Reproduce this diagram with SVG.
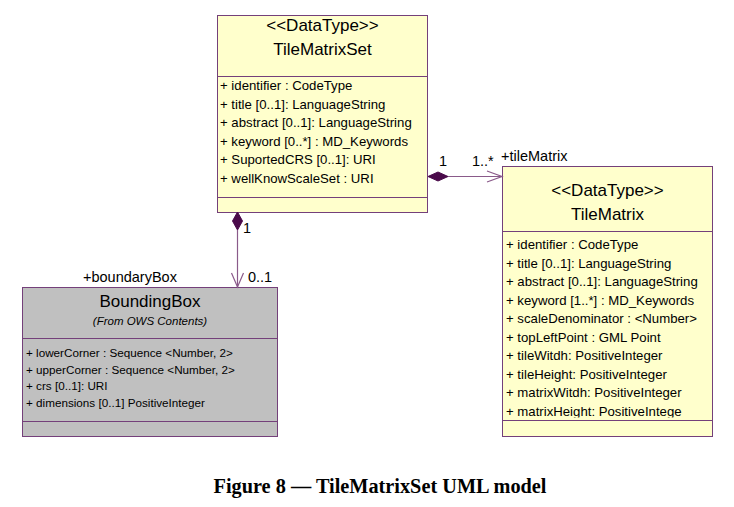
<svg xmlns="http://www.w3.org/2000/svg" width="734" height="507" viewBox="0 0 734 507">
<style>
.box{fill:#ffffcc;stroke:#74407a;stroke-width:1}
.gbox{fill:#c0c0c0;stroke:#74407a;stroke-width:1}
.div{stroke:#74407a;stroke-width:1}
.st{font-family:"Liberation Sans",Arial,sans-serif;font-size:17px;fill:#000;text-anchor:middle}
.at{font-family:"Liberation Sans",Arial,sans-serif;font-size:13.2px;fill:#000}
.sat{font-family:"Liberation Sans",Arial,sans-serif;font-size:11.7px;fill:#000}
.it{font-family:"Liberation Sans",Arial,sans-serif;font-size:11.5px;font-style:italic;fill:#000;text-anchor:middle}
.lbl{font-family:"Liberation Sans",Arial,sans-serif;font-size:14.5px;fill:#000}
.conn{stroke:#8a5a8a;stroke-width:1.2;fill:none}
.dia{fill:#4a0a4a;stroke:#4a0a4a}
.cap{font-family:"Liberation Serif","Times New Roman",serif;font-size:20.3px;font-weight:bold;fill:#000;text-anchor:middle}
</style>
<defs>
<clipPath id="tmclip"><rect x="503" y="232" width="209" height="185.5"/></clipPath>
</defs>
<rect width="734" height="507" fill="#ffffff"/>

<g id="TileMatrixSet">
<rect class="box" x="217.5" y="15.5" width="210" height="197"/>
<line class="div" x1="217.5" y1="76.5" x2="427.5" y2="76.5"/>
<line class="div" x1="217.5" y1="197.5" x2="427.5" y2="197.5"/>
<text class="st" x="322.5" y="31">&lt;&lt;DataType&gt;&gt;</text>
<text class="st" x="322.5" y="55">TileMatrixSet</text>
<text class="at" x="220" y="90">+ identifier : CodeType</text>
<text class="at" x="220" y="108.5">+ title [0..1]: LanguageString</text>
<text class="at" x="220" y="127">+ abstract [0..1]: LanguageString</text>
<text class="at" x="220" y="145.5">+ keyword [0..*] : MD_Keywords</text>
<text class="at" x="220" y="164">+ SuportedCRS [0..1]: URI</text>
<text class="at" x="220" y="182.5">+ wellKnowScaleSet : URI</text>
</g>

<g id="TileMatrix">
<rect class="box" x="502.5" y="166.5" width="210" height="270"/>
<line class="div" x1="502.5" y1="231.5" x2="712.5" y2="231.5"/>
<line class="div" x1="502.5" y1="420.5" x2="712.5" y2="420.5"/>
<text class="st" x="607.5" y="196">&lt;&lt;DataType&gt;&gt;</text>
<text class="st" x="607.5" y="220">TileMatrix</text>
<g clip-path="url(#tmclip)">
<text class="at" x="506" y="249">+ identifier : CodeType</text>
<text class="at" x="506" y="267.5">+ title [0..1]: LanguageString</text>
<text class="at" x="506" y="286">+ abstract [0..1]: LanguageString</text>
<text class="at" x="506" y="304.5">+ keyword [1..*] : MD_Keywords</text>
<text class="at" x="506" y="323">+ scaleDenominator : &lt;Number&gt;</text>
<text class="at" x="506" y="341.5">+ topLeftPoint : GML Point</text>
<text class="at" x="506" y="360">+ tileWitdh: PositiveInteger</text>
<text class="at" x="506" y="378.5">+ tileHeight: PositiveInteger</text>
<text class="at" x="506" y="397">+ matrixWitdh: PositiveInteger</text>
<text class="at" x="506" y="415.5">+ matrixHeight: PositiveIntege</text>
</g>
</g>

<g id="BoundingBox">
<rect class="gbox" x="22.5" y="287.5" width="255" height="149"/>
<line class="div" x1="22.5" y1="338.5" x2="277.5" y2="338.5"/>
<line class="div" x1="22.5" y1="421.5" x2="277.5" y2="421.5"/>
<text class="st" x="150" y="307">BoundingBox</text>
<text class="it" x="150" y="325">(From OWS Contents)</text>
<text class="sat" x="26" y="357">+ lowerCorner : Sequence &lt;Number, 2&gt;</text>
<text class="sat" x="26" y="373.5">+ upperCorner : Sequence &lt;Number, 2&gt;</text>
<text class="sat" x="26" y="390">+ crs [0..1]: URI</text>
<text class="sat" x="26" y="406.5">+ dimensions [0..1] PositiveInteger</text>
</g>

<g id="connectors">
<g id="tms-tm">
<line class="conn" x1="448" y1="176.5" x2="502" y2="176.5"/>
<polygon class="dia" points="428,176.5 438,172 448,176.5 438,181"/>
<polyline class="conn" points="487,171 502,176.5 487,182"/>
<text class="lbl" x="439" y="166">1</text>
<text class="lbl" x="472" y="166">1..*</text>
<text class="lbl" x="501" y="161">+tileMatrix</text>
</g>
<g id="tms-bb">
<line class="conn" x1="237.5" y1="230" x2="237.5" y2="287"/>
<polygon class="dia" points="237.5,212 242.5,221 237.5,230 232.5,221"/>
<polyline class="conn" points="231.5,273 237.5,287 243.5,273"/>
<text class="lbl" x="243" y="233">1</text>
<text class="lbl" x="248" y="282">0..1</text>
<text class="lbl" x="83" y="282">+boundaryBox</text>
</g>
</g>

<text class="cap" x="380" y="493">Figure 8 — TileMatrixSet UML model</text>
</svg>
